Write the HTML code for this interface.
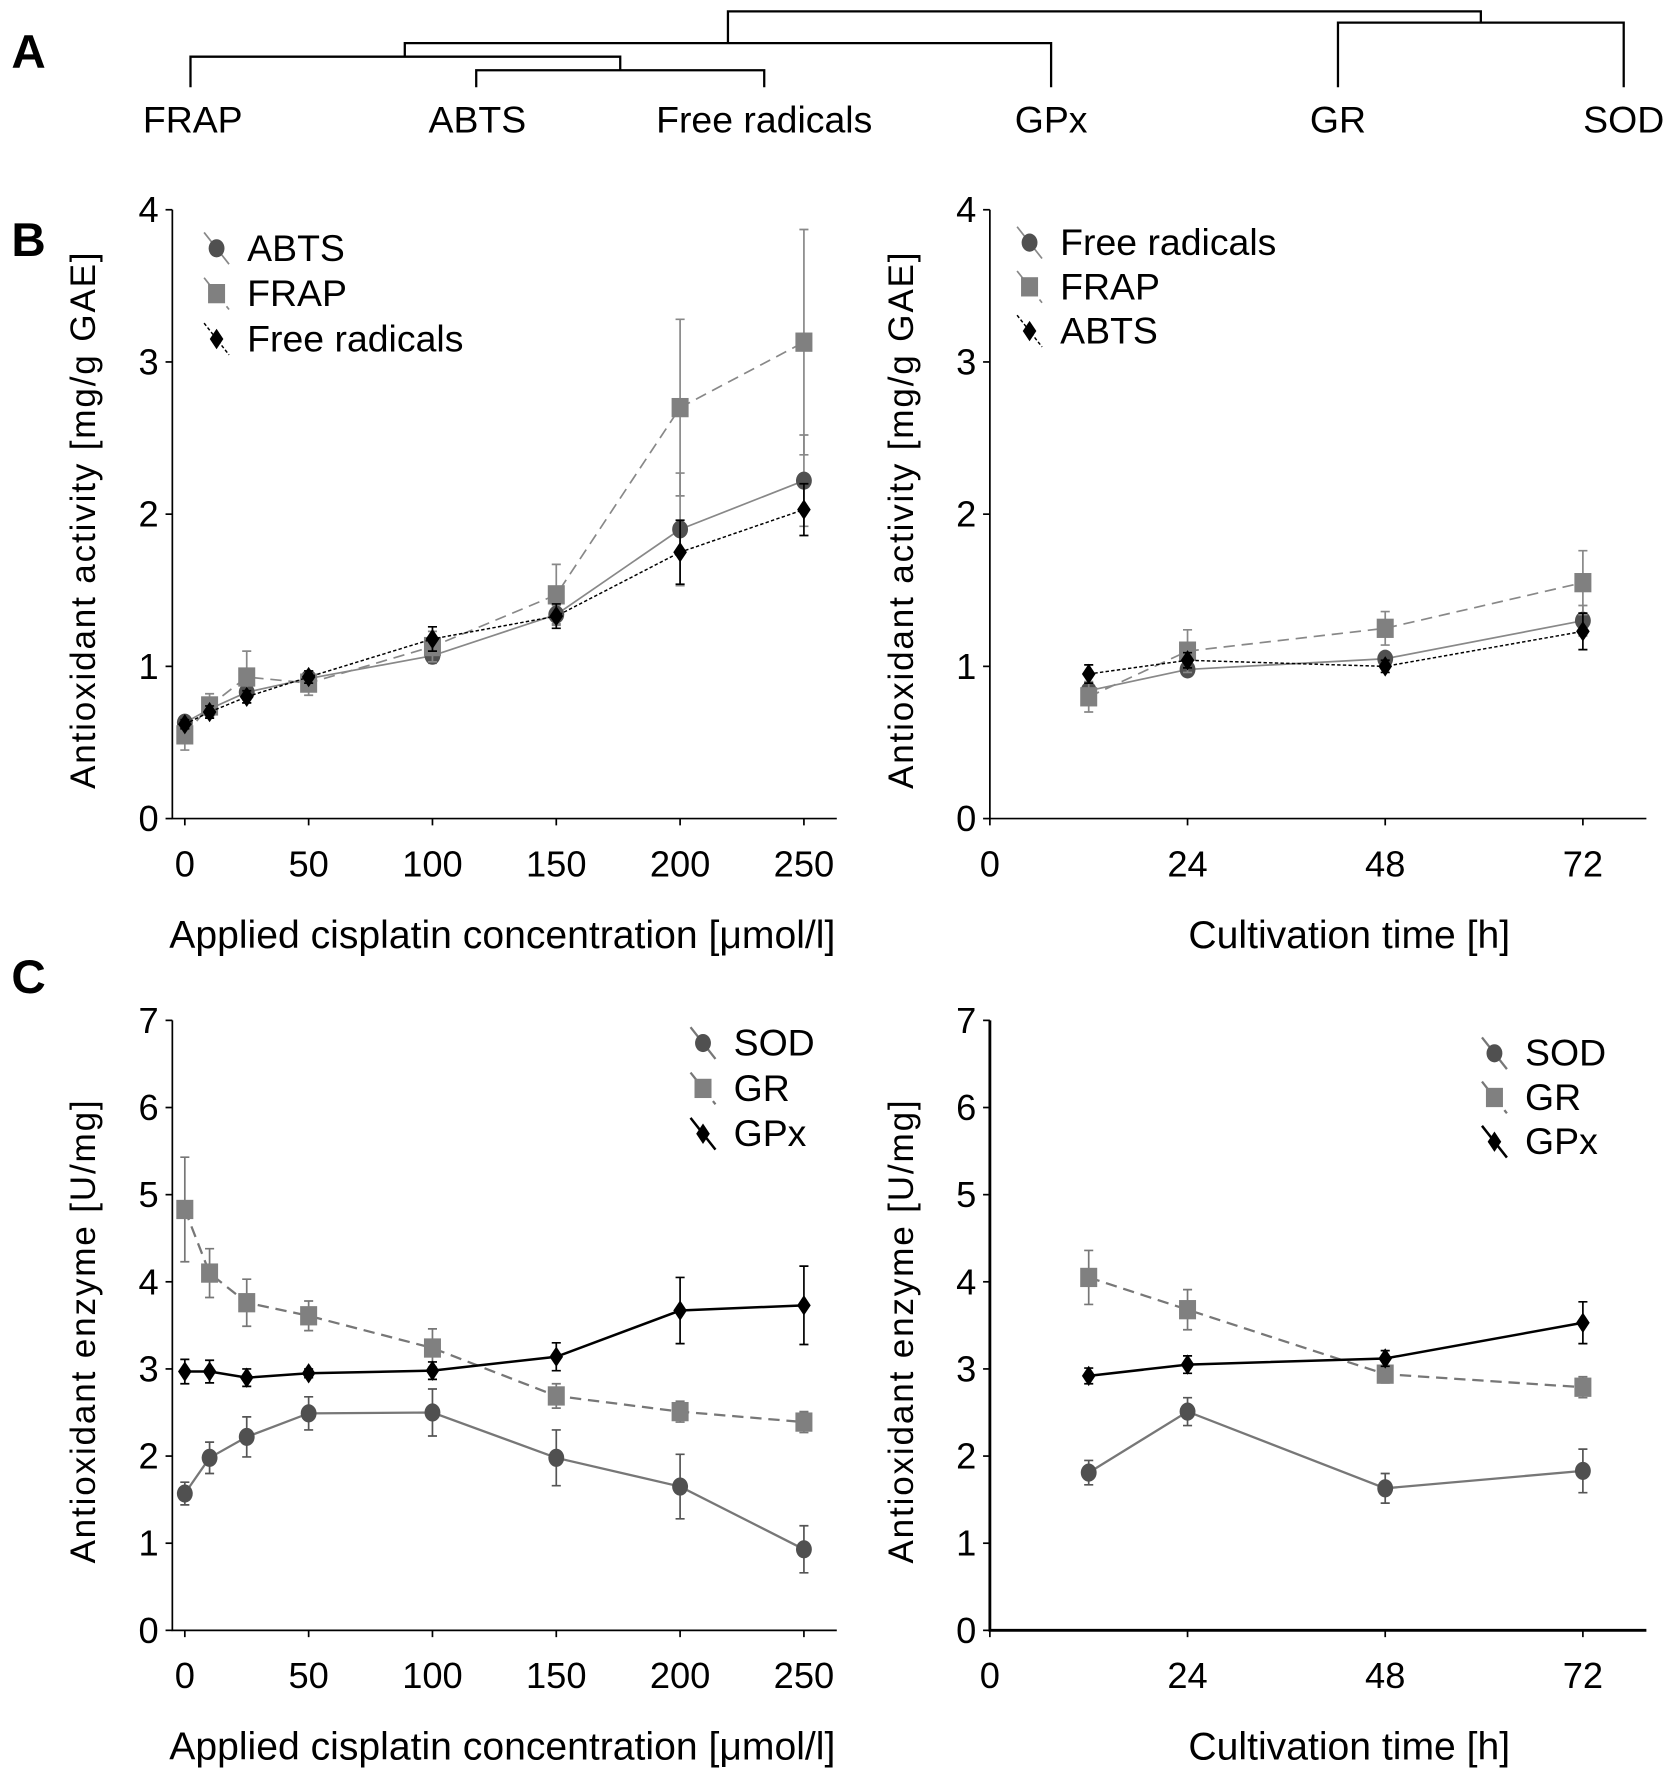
<!DOCTYPE html>
<html><head><meta charset="utf-8"><style>html,body{margin:0;padding:0;background:#fff}svg{display:block}text{font-family:"Liberation Sans",Arial,sans-serif}</style></head>
<body>
<svg id="fig" xmlns="http://www.w3.org/2000/svg" width="1677" height="1780" viewBox="0 0 1479 1570" preserveAspectRatio="none">
<g id="dendro" stroke="#000" stroke-width="2" fill="none">
<path d="M168 77V50H547V62M420 77V62H674V77M357 50V38H927V77M642 38V10H1306V20M1180 77V20H1432V77"/>
</g>
<g font-size="33" text-anchor="middle">
<text x="170" y="117">FRAP</text>
<text x="421" y="117">ABTS</text>
<text x="674" y="117">Free radicals</text>
<text x="927" y="117">GPx</text>
<text x="1180" y="117">GR</text>
<text x="1432" y="117">SOD</text>
</g>
<text x="10" y="60" font-size="42" font-weight="bold">A</text>
<text x="10" y="226" font-size="42" font-weight="bold">B</text>
<text x="10" y="876" font-size="42" font-weight="bold">C</text>
<g id="charts"></g>
</svg>
<script>
// ---- data ----
const concCats=[0,10,25,50,100,150,200,250];
const timeCats=[12,24,48,72];
const concTicks=[0,50,100,150,200,250];
const timeTicks=[0,24,48,72];
const bTicks=[0,1,2,3,4];
const cTicks=[0,1,2,3,4,5,6,7];
const bL_abts=[0.63,0.72,0.83,0.92,1.07,1.34,1.90,2.22];
const bL_abtsErr=[0.03,0.05,0.05,0.05,0.05,0.06,0.37,0.30];
const bL_frap=[0.55,0.74,0.93,0.89,1.13,1.47,2.70,3.13];
const bL_frapErr=[0.10,0.08,0.17,0.08,0.10,0.20,0.58,0.74];
const bL_free=[0.62,0.70,0.80,0.93,1.18,1.33,1.75,2.03];
const bL_freeErr=[0.03,0.04,0.04,0.04,0.08,0.08,0.21,0.17];
const bR_free=[0.84,0.98,1.05,1.30];
const bR_freeErr=[0.05,0.03,0.04,0.10];
const bR_frap=[0.80,1.10,1.25,1.55];
const bR_frapErr=[0.10,0.14,0.11,0.21];
const bR_abts=[0.95,1.04,1.00,1.23];
const bR_abtsErr=[0.06,0.05,0.04,0.12];
const cL_sod=[1.57,1.98,2.22,2.49,2.50,1.98,1.65,0.93];
const cL_sodErr=[0.13,0.18,0.23,0.19,0.27,0.32,0.37,0.27];
const cL_gr=[4.83,4.10,3.76,3.61,3.24,2.69,2.51,2.39];
const cL_grErr=[0.60,0.28,0.27,0.17,0.22,0.14,0.12,0.12];
const cL_gpx=[2.97,2.97,2.90,2.95,2.98,3.14,3.67,3.73];
const cL_gpxErr=[0.14,0.13,0.10,0.05,0.10,0.16,0.38,0.45];
const cR_sod=[1.81,2.51,1.63,1.83];
const cR_sodErr=[0.14,0.16,0.17,0.25];
const cR_gr=[4.05,3.68,2.94,2.79];
const cR_grErr=[0.31,0.23,0.10,0.12];
const cR_gpx=[2.92,3.05,3.12,3.53];
const cR_gpxErr=[0.09,0.10,0.09,0.24];

const NS='http://www.w3.org/2000/svg';
const root=document.getElementById('charts');
function mk(tag,attrs,parent){const e=document.createElementNS(NS,tag);for(const k in attrs)e.setAttribute(k,attrs[k]);(parent||root).appendChild(e);return e;}

function marker(g,shape,x,y,fill){
  let m;
  if(shape==='circle'){m=mk('ellipse',{cx:x,cy:y,rx:7,ry:8,fill:fill},g);}
  else if(shape==='square'){m=mk('rect',{x:x-7.5,y:y-8.5,width:15,height:17,fill:fill},g);}
  else {m=mk('path',{d:`M${x} ${y-9}L${x+6} ${y}L${x} ${y+9}L${x-6} ${y}Z`,fill:fill},g);}
  
  
}

function chart(cfg){
  const g=mk('g',{});
  
  
  const sx=v=>cfg.x0+(v-cfg.xmin)/(cfg.xmax-cfg.xmin)*(cfg.x1-cfg.x0);
  const sy=v=>cfg.y0-(v-cfg.ymin)/(cfg.ymax-cfg.ymin)*(cfg.y0-cfg.y1);
  const ax=mk('path',{d:`M${cfg.axX} ${cfg.y1}V${cfg.y0}H${cfg.axEnd}`,stroke:'#000','stroke-width':cfg.axW||1.5,fill:'none'},g);
  
  
  cfg.yTicks.forEach(t=>{
    const y=sy(t);
    mk('line',{x1:cfg.axX-6,x2:cfg.axX,y1:y,y2:y,stroke:'#000','stroke-width':1.5},g);
    const tx=mk('text',{x:cfg.axX-12,y:y+11,'font-size':32,'text-anchor':'end'},g);
    tx.textContent=t;
    
    
  });
  cfg.xTicks.forEach(t=>{
    const x=sx(t);
    mk('line',{x1:x,x2:x,y1:cfg.y0,y2:cfg.y0+6,stroke:'#000','stroke-width':1.5},g);
    const tx=mk('text',{x:x,y:cfg.y0+51,'font-size':32,'text-anchor':'middle'},g);
    tx.textContent=t;
    
    
  });
  const xt=mk('text',{x:cfg.xTitleX,y:cfg.y0+114,'font-size':34.5,'text-anchor':'middle'},g);
  xt.textContent=cfg.xTitle;
  
  
  const ytx=cfg.axX-68, yty=(cfg.y0+cfg.y1)/2+5;
  const yt=mk('text',{x:ytx,y:yty,'font-size':31,'letter-spacing':'1.6','text-anchor':'middle',transform:`rotate(-90 ${ytx} ${yty})`},g);
  yt.textContent=cfg.yTitle;
  
  
  cfg.series.forEach((s,si)=>{
    const sg=mk('g',{},g);
    
    
    s.vals.forEach((v,i)=>{
      const x=sx(cfg.cats[i]);const e=s.err[i];
      const eb=mk('path',{d:`M${x} ${sy(v-e)}V${sy(v+e)}M${x-4} ${sy(v-e)}H${x+4}M${x-4} ${sy(v+e)}H${x+4}`,stroke:s.ecol,'stroke-width':1.5,fill:'none'},sg);
      
      
    });
    const d=s.vals.map((v,i)=>(i?'L':'M')+sx(cfg.cats[i])+' '+sy(v)).join('');
    const ln=mk('path',{d:d,stroke:s.lcol,'stroke-width':s.lw,fill:'none','stroke-dasharray':s.dash},sg);
    
    
    s.vals.forEach((v,i)=>marker(sg,s.shape,sx(cfg.cats[i]),sy(v),s.fill));
    const lx=cfg.legX, ly=cfg.legY+si*cfg.legDy;
    const lg=mk('g',{},g);
    
    
    mk('line',{x1:lx-11,y1:ly-14,x2:lx+11,y2:ly+14,stroke:s.lcol,'stroke-width':s.lw,'stroke-dasharray':s.dash},lg);
    marker(lg,s.shape,lx,ly,s.fill);
    const lt=mk('text',{x:lx+27,y:ly+11,'font-size':33},lg);
    lt.textContent=s.label;
  });
}
const st={
  circle:{shape:'circle',fill:'#505050',lcol:'#888',ecol:'#888',lw:1.5,dash:'none'},
  square:{shape:'square',fill:'#808080',lcol:'#888',ecol:'#888',lw:1.5,dash:'10 6'},
  diamondB:{shape:'diamond',fill:'#000',lcol:'#000',ecol:'#000',lw:1.3,dash:'3 2'},
  sodC:{shape:'circle',fill:'#505050',lcol:'#777',ecol:'#555',lw:2,dash:'none'},
  grC:{shape:'square',fill:'#808080',lcol:'#777',ecol:'#777',lw:2,dash:'10 6'},
  gpxC:{shape:'diamond',fill:'#000',lcol:'#000',ecol:'#000',lw:2.2,dash:'none'}
};
const S=(base,label,vals,err)=>Object.assign({},base,{label,vals,err});
const concX={x0:163,x1:709,xmin:0,xmax:250,axX:152,axEnd:738,xTitleX:443,cats:concCats,xTicks:concTicks,xTitle:'Applied cisplatin concentration [μmol/l]'};
const timeX={x0:873,x1:1396,xmin:0,xmax:72,axX:873,axEnd:1452,xTitleX:1190,cats:timeCats,xTicks:timeTicks,xTitle:'Cultivation time [h]'};
const bY={y0:722,y1:185,ymin:0,ymax:4,yTicks:bTicks,yTitle:'Antioxidant activity [mg/g GAE]'};
const cY={y0:1438,y1:900,ymin:0,ymax:7,yTicks:cTicks,yTitle:'Antioxidant enzyme [U/mg]'};
chart(Object.assign({name:'chart-b-concentration',legX:191,legY:219,legDy:40,series:[
  S(st.circle,'ABTS',bL_abts,bL_abtsErr),S(st.square,'FRAP',bL_frap,bL_frapErr),S(st.diamondB,'Free radicals',bL_free,bL_freeErr)]},concX,bY));
chart(Object.assign({name:'chart-b-time',legX:908,legY:214,legDy:39,series:[
  S(st.circle,'Free radicals',bR_free,bR_freeErr),S(st.square,'FRAP',bR_frap,bR_frapErr),S(st.diamondB,'ABTS',bR_abts,bR_abtsErr)]},timeX,bY));
chart(Object.assign({name:'chart-c-concentration',legX:620,legY:920,legDy:40,series:[
  S(st.sodC,'SOD',cL_sod,cL_sodErr),S(st.grC,'GR',cL_gr,cL_grErr),S(st.gpxC,'GPx',cL_gpx,cL_gpxErr)]},concX,cY));
chart(Object.assign({name:'chart-c-time',legX:1318,legY:929,legDy:39,axW:2.5,series:[
  S(st.sodC,'SOD',cR_sod,cR_sodErr),S(st.grC,'GR',cR_gr,cR_grErr),S(st.gpxC,'GPx',cR_gpx,cR_gpxErr)]},timeX,cY));
</script>
</body></html>
